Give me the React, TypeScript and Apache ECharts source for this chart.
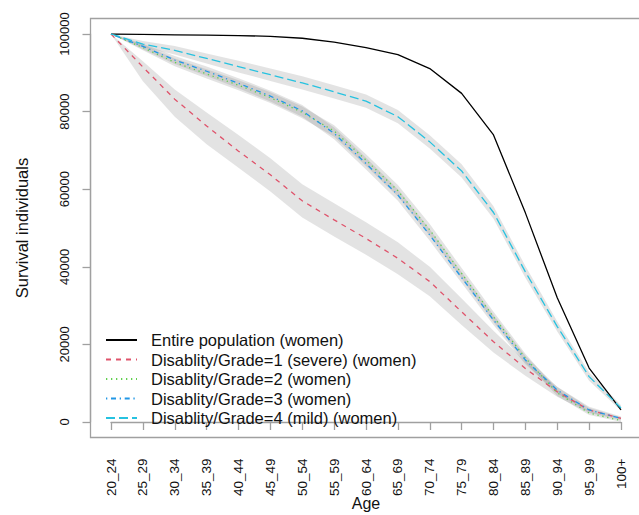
import React, { useEffect, useRef } from "react";
import * as echarts from "echarts";

const ageGroups = ["20_24", "25_29", "30_34", "35_39", "40_44", "45_49", "50_54", "55_59", "60_64", "65_69", "70_74", "75_79", "80_84", "85_89", "90_94", "95_99", "100+"];
const yTicks = [0, 20000, 40000, 60000, 80000, 100000];

const seriesNames = [
  "Entire population (women)",
  "Disablity/Grade=1 (severe) (women)",
  "Disablity/Grade=2 (women)",
  "Disablity/Grade=3 (women)",
  "Disablity/Grade=4 (mild) (women)",
];

const entire = [100000, 99900, 99800, 99700, 99600, 99400, 98900, 97900, 96500, 94700, 91100, 84700, 74000, 53900, 32000, 13900, 3100];

const grade1 = [100000, 91500, 83200, 76300, 69800, 63700, 57000, 52100, 47300, 42200, 36200, 28400, 20700, 13800, 7800, 3100, 950];
const grade1Upper = [100000, 93000, 85700, 79800, 74000, 68000, 61300, 56400, 51500, 46300, 40000, 31800, 23500, 15700, 9100, 3900, 1400];
const grade1Lower = [100000, 87800, 78700, 71600, 65500, 59400, 52700, 47800, 43100, 38100, 32400, 25000, 17900, 11900, 6500, 2300, 500];

const grade2 = [100000, 96500, 92700, 89700, 86800, 83600, 79800, 75000, 67500, 59600, 49500, 38300, 27100, 16500, 7500, 2300, 350];
const grade2Upper = [100000, 97200, 93700, 90900, 88100, 85000, 81300, 76500, 69000, 61100, 51000, 39700, 28400, 17600, 8300, 2800, 650];
const grade2Lower = [100000, 95800, 91700, 88500, 85500, 82200, 78300, 73500, 66000, 58100, 48000, 36900, 25800, 15400, 6700, 1800, 50];

const grade3 = [100000, 96800, 93300, 90400, 87300, 84000, 80200, 74400, 66600, 58500, 48200, 37200, 26300, 16000, 8200, 3100, 950];
const grade3Upper = [100000, 97500, 94300, 91600, 88600, 85400, 81700, 75900, 68100, 60000, 49700, 38600, 27600, 17100, 9000, 3600, 1250];
const grade3Lower = [100000, 96100, 92300, 89200, 86000, 82600, 78700, 72900, 65100, 57000, 46700, 35800, 25000, 14900, 7400, 2600, 650];

const grade4 = [100000, 97400, 95800, 93700, 91600, 89500, 87400, 85100, 82700, 78700, 72200, 64700, 54000, 38700, 24600, 11700, 3600];
const grade4Upper = [100000, 98200, 96900, 95000, 93100, 91100, 89100, 86800, 84400, 80400, 73900, 66400, 55600, 40200, 25900, 12800, 4300];
const grade4Lower = [100000, 96600, 94700, 92400, 90100, 87900, 85700, 83400, 81000, 77000, 70500, 63000, 52400, 37200, 23300, 10600, 2900];

const FONT = "'Liberation Sans', Arial, Helvetica, sans-serif";
const GRAY = "#a0a0a0";
const TEXT = "#111";

function band(id: string, lower: number[], upper: number[]) {
  return [
    {
      type: "line",
      name: id + "_lo",
      stack: id,
      data: lower,
      symbol: "none",
      silent: true,
      lineStyle: { opacity: 0 },
      z: 1,
    },
    {
      type: "line",
      name: id + "_hi",
      stack: id,
      data: upper.map((u, i) => u - lower[i]),
      symbol: "none",
      silent: true,
      lineStyle: { opacity: 0 },
      areaStyle: { color: "rgba(128,128,128,0.32)" },
      z: 1,
    },
  ];
}

function line(name: string, data: number[], color: string, type: any) {
  return {
    type: "line",
    name,
    data,
    symbol: "none",
    lineStyle: { color, width: 1.3, type },
    itemStyle: { color },
    z: 3,
  };
}

export default function App() {
  const ref = useRef<HTMLDivElement>(null);
  useEffect(() => {
    if (!ref.current) return;
    const chart = echarts.init(ref.current, undefined, { renderer: "svg" });
    chart.setOption({
      animation: false,
      backgroundColor: "#ffffff",
      textStyle: { fontFamily: FONT },
      grid: { left: 111, right: 18, top: 34, bottom: 93, containLabel: false, outerBoundsMode: "none" },
      xAxis: {
        type: "category",
        data: ageGroups,
        boundaryGap: false,
        offset: 15.5,
        name: "Age",
        nameLocation: "middle",
        nameGap: 58,
        nameMoveOverlap: false,
        nameTextStyle: { fontSize: 16, color: TEXT, fontFamily: FONT },
        axisLine: { show: true, lineStyle: { color: GRAY, width: 1.3 } },
        axisTick: { show: true, length: 8, alignWithLabel: true, lineStyle: { color: GRAY, width: 1.3 } },
        axisLabel: { rotate: 90, margin: 21, fontSize: 13.5, color: TEXT, fontFamily: FONT, interval: 0 },
        splitLine: { show: false },
      },
      yAxis: {
        type: "value",
        min: yTicks[0],
        max: yTicks[yTicks.length - 1],
        interval: yTicks[1] - yTicks[0],
        offset: 20.5,
        name: "Survival individuals",
        nameLocation: "middle",
        nameGap: 60,
        nameMoveOverlap: false,
        nameTextStyle: { fontSize: 16.5, color: TEXT, fontFamily: FONT },
        axisLine: { show: true, lineStyle: { color: GRAY, width: 1.3 } },
        axisTick: { show: true, length: 8, lineStyle: { color: GRAY, width: 1.3 } },
        axisLabel: {
          rotate: 90,
          margin: 20,
          fontSize: 13,
          color: TEXT,
          fontFamily: FONT,
          formatter: (v: number) => String(v),
        },
        splitLine: { show: false },
      },
      legend: {
        data: seriesNames,
        orient: "vertical",
        left: 105,
        top: 331,
        padding: 0,
        itemWidth: 31,
        itemHeight: 18,
        itemGap: 1.5,
        selectedMode: false,
        itemStyle: { opacity: 0 },
        textStyle: { fontSize: 16.5, color: TEXT, fontFamily: FONT, lineHeight: 18, padding: [0, 0, 0, 9] },
      },
      graphic: [
        {
          type: "rect",
          shape: { x: 90.5, y: 18.5, width: 551, height: 419 },
          style: { fill: "none", stroke: GRAY, lineWidth: 1.3 },
          silent: true,
          z: 10,
        },
      ],
      series: [
        ...band("b1", grade1Lower, grade1Upper),
        ...band("b2", grade2Lower, grade2Upper),
        ...band("b3", grade3Lower, grade3Upper),
        ...band("b4", grade4Lower, grade4Upper),
        line(seriesNames[0], entire, "#000000", "solid"),
        line(seriesNames[1], grade1, "#DF536B", [5, 5]),
        line(seriesNames[2], grade2, "#61D04F", [1.3, 3.7]),
        line(seriesNames[3], grade3, "#2297E6", [1.3, 3.7, 5, 3.7]),
        line(seriesNames[4], grade4, "#26C2E0", [9, 4]),
      ],
    });
    return () => chart.dispose();
  }, []);
  return (
    <div
      ref={ref}
      style={{ position: "fixed", left: 0, top: 0, width: 639, height: 515 }}
    />
  );
}
